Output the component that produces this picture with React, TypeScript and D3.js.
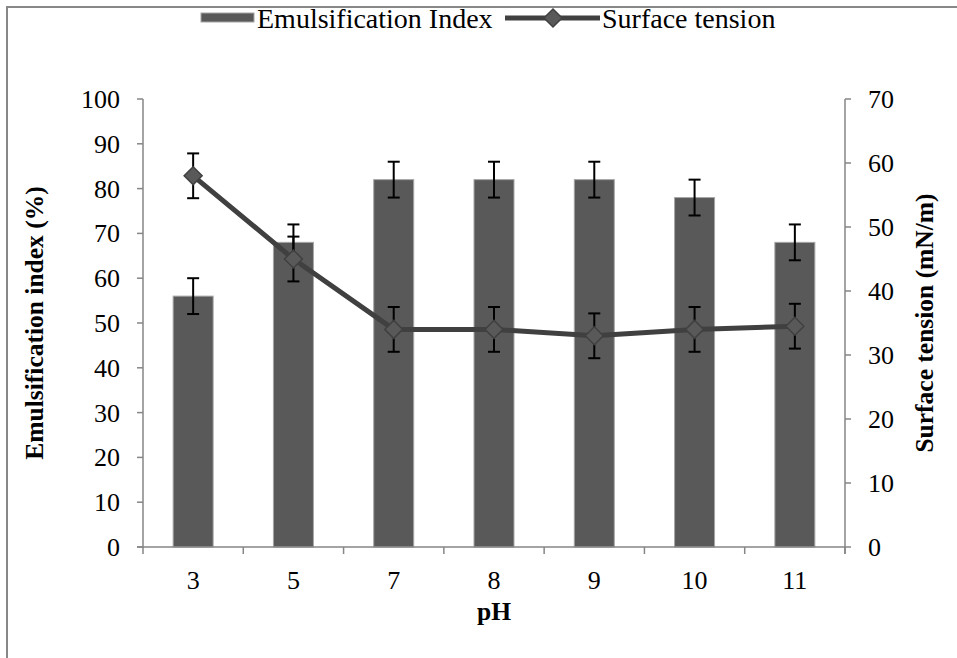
import React from "react";
import * as d3 from "d3";

const categories = ["3", "5", "7", "8", "9", "10", "11"];
const emulsification = [56, 68, 82, 82, 82, 78, 68];
const emulsificationErr = [4, 4, 4, 4, 4, 4, 4];
const surfaceTension = [58, 45, 34, 34, 33, 34, 34.5];
const surfaceTensionErr = [3.5, 3.5, 3.5, 3.5, 3.5, 3.5, 3.5];
const leftTicks = [0, 10, 20, 30, 40, 50, 60, 70, 80, 90, 100];
const rightTicks = [0, 10, 20, 30, 40, 50, 60, 70];

const W = 957, H = 658;
const left = 143, right = 845, top = 99, bottom = 547;
const font = '"Liberation Serif", "Times New Roman", serif';
const axisColor = "#868686";
const fs = 26;

export default function App() {
  const x = d3.scaleBand().domain(categories).range([left, right]).paddingInner(0).paddingOuter(0);
  const yL = d3.scaleLinear().domain([0, 100]).range([bottom, top]);
  const yR = d3.scaleLinear().domain([0, 70]).range([bottom, top]);
  const bw = 40;
  const cx = (c: string) => (x(c) as number) + x.bandwidth() / 2;
  const line = d3.line<number>().x((_, i) => cx(categories[i])).y(d => yR(d));
  const diamond = (px: number, py: number, r: number) =>
    `M${px},${py - r}L${px + r},${py}L${px},${py + r}L${px - r},${py}Z`;
  const boundaries = d3.range(categories.length + 1).map(i => left + i * x.step());

  return (
    <svg width={W} height={H} style={{ position: "absolute", left: 0, top: 0, background: "#fff", fontFamily: font }}>
      <rect x={0} y={0} width={W} height={H} fill="#fff" />
      <line x1={6} x2={W} y1={7} y2={7} stroke="#888" strokeWidth={2} />
      <line x1={7} x2={7} y1={6} y2={H} stroke="#888" strokeWidth={2} />

      {/* bars */}
      {emulsification.map((v, i) => (
        <rect key={"b" + i} x={cx(categories[i]) - bw / 2} y={yL(v)} width={bw} height={yL(0) - yL(v)}
          fill="#595959" stroke="#a6a6a6" strokeWidth={1} />
      ))}
      {/* bar error bars */}
      {emulsification.map((v, i) => {
        const c = cx(categories[i]);
        const e = emulsificationErr[i];
        return (
          <g key={"be" + i} stroke="#000" strokeWidth={2}>
            <line x1={c} x2={c} y1={yL(v + e)} y2={yL(v - e)} />
            <line x1={c - 6} x2={c + 6} y1={yL(v + e)} y2={yL(v + e)} />
            <line x1={c - 6} x2={c + 6} y1={yL(v - e)} y2={yL(v - e)} />
          </g>
        );
      })}

      {/* axes */}
      <line x1={left} x2={left} y1={top} y2={bottom} stroke={axisColor} strokeWidth={1.5} />
      <line x1={right} x2={right} y1={top} y2={bottom + 7} stroke={axisColor} strokeWidth={1.5} />
      <line x1={left - 6} x2={right} y1={bottom} y2={bottom} stroke={axisColor} strokeWidth={1.5} />
      {leftTicks.map(t => (
        <g key={"lt" + t}>
          <line x1={left - 6} x2={left} y1={yL(t)} y2={yL(t)} stroke={axisColor} strokeWidth={1.5} />
          <text x={120} y={yL(t) + 9} textAnchor="end" fontSize={fs}>{t}</text>
        </g>
      ))}
      {rightTicks.map(t => (
        <g key={"rt" + t}>
          <line x1={right} x2={right + 6} y1={yR(t)} y2={yR(t)} stroke={axisColor} strokeWidth={1.5} />
          <text x={868} y={yR(t) + 9} textAnchor="start" fontSize={fs}>{t}</text>
        </g>
      ))}
      {boundaries.map((b, i) => (
        <line key={"xt" + i} x1={b} x2={b} y1={bottom} y2={bottom + 7} stroke={axisColor} strokeWidth={1.5} />
      ))}
      {categories.map(c => (
        <text key={"xl" + c} x={cx(c)} y={589} textAnchor="middle" fontSize={fs}>{c}</text>
      ))}

      {/* line series */}
      <path d={line(surfaceTension) || ""} fill="none" stroke="#404040" strokeWidth={5} strokeLinejoin="round" />
      {surfaceTension.map((v, i) => {
        const c = cx(categories[i]);
        const e = surfaceTensionErr[i];
        return (
          <g key={"se" + i} stroke="#000" strokeWidth={2}>
            <line x1={c} x2={c} y1={yR(v + e)} y2={yR(v - e)} />
            <line x1={c - 6} x2={c + 6} y1={yR(v + e)} y2={yR(v + e)} />
            <line x1={c - 6} x2={c + 6} y1={yR(v - e)} y2={yR(v - e)} />
          </g>
        );
      })}
      {surfaceTension.map((v, i) => (
        <path key={"m" + i} d={diamond(cx(categories[i]), yR(v), 9)} fill="#595959" stroke="#404040" strokeWidth={1.5} />
      ))}

      {/* axis titles */}
      <text transform={`translate(43,323) rotate(-90)`} textAnchor="middle" fontSize={25.5} fontWeight="bold">Emulsification index (%)</text>
      <text transform={`translate(933,323) rotate(-90)`} textAnchor="middle" fontSize={25.5} fontWeight="bold">Surface tension (mN/m)</text>
      <text x={494} y={620} textAnchor="middle" fontSize={25.5} fontWeight="bold">pH</text>

      {/* legend */}
      <rect x={201} y={13} width={53} height={9} fill="#595959" stroke="#a6a6a6" strokeWidth={1} />
      <text x={257} y={28} fontSize={28}>Emulsification Index</text>
      <line x1={505} x2={600} y1={18} y2={18} stroke="#404040" strokeWidth={5} />
      <path d={diamond(553, 18, 9)} fill="#595959" stroke="#404040" strokeWidth={1.5} />
      <text x={602} y={28} fontSize={28}>Surface tension</text>
    </svg>
  );
}
